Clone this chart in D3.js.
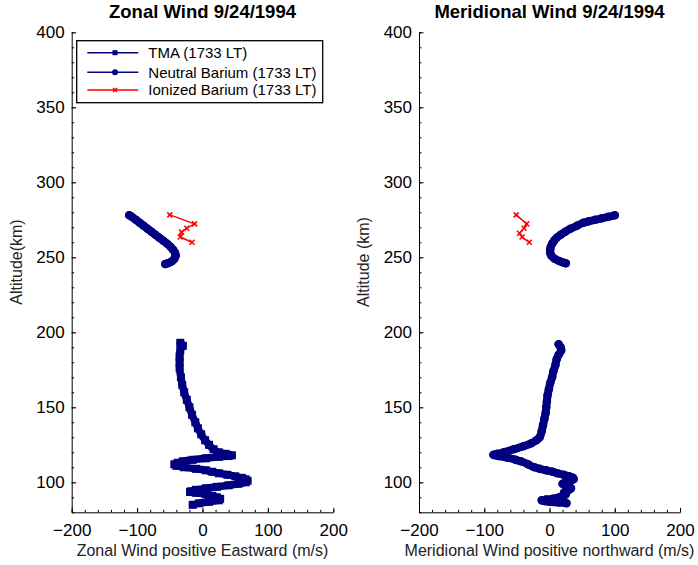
<!doctype html>
<html>
<head>
    <style>
        body { margin: 0; background: #fff; }
        text { font-family: "Liberation Sans", Arial, sans-serif; }
        .title { font-weight: bold; font-size: 18.5px; }
        .tick text { font-size: 17px; }
    </style>
    <script src="https://d3js.org/d3.v7.min.js"></script>
</head>
<body>
    <svg width="698" height="565"></svg>
    <script>
        // Zonal wind (m/s) vs altitude (km)
        var tmaZonalAlt = [193, 191, 188, 184, 180, 176, 170, 165, 160, 155, 150, 145, 140, 136, 132, 128, 125, 122, 120, 119, 118,
            117.5, 117, 116, 115, 114, 113, 112, 111, 110, 109, 108, 107, 106, 105, 104, 103, 102, 101, 100, 99, 98, 97, 96, 95,
            94, 93.5, 93, 92, 91, 90, 89, 88, 87, 86, 85];
        var tmaZonalWind = [-34, -30, -34, -35, -35, -35, -33, -31, -28, -24, -20, -16, -11, -7, -2, 4, 10, 17, 25, 35, 45,
            40, 25, 5, -15, -30, -38, -43, -40, -28, -10, 5, 15, 25, 38, 50, 60, 66, 69, 66, 55, 40, 22, 5, -10,
            -18, -19, -10, 5, 15, 22, 27, 25, 10, -5, -15];

        var baZonalAlt = [278, 277, 275, 273, 271, 269, 267, 265, 263, 261, 259, 257, 255, 253, 251, 249, 247, 246, 245.5];
        var baZonalWind = [-112, -108, -102, -96, -90, -84, -78, -72, -66, -60, -54, -49, -45, -42, -41, -43, -48, -53, -57];

        var ionZonalAlt = [278.3, 272.3, 269.4, 266.8, 263.5, 260];
        var ionZonalWind = [-50, -12, -24, -32, -34, -16];

        // Meridional wind (m/s) vs altitude (km)
        var tmaMeridAlt = [192, 190, 188, 185, 182, 178, 174, 170, 166, 162, 158, 154, 150, 146, 142, 138, 134, 130, 128, 126,
            124, 122, 120, 119, 118.3, 117.5, 116.5, 115, 114, 112, 110, 109, 108, 107, 106, 105, 104, 103, 102, 101, 100,
            99, 98, 97, 96, 95, 94, 93, 92, 91, 90, 89, 88.5, 88, 87, 86.5, 86];
        var tmaMeridWind = [14, 17, 18, 14, 11, 9, 6, 4, 1, -1, -3, -4, -5, -6, -8, -10, -12, -15, -20, -28,
            -40, -55, -70, -80, -86, -78, -65, -52, -44, -33, -23, -15, -5, 5, 12, 22, 30, 36, 37, 32, 25,
            20, 25, 30, 33, 30, 25, 22, 25, 22, 15, 5, -5, -12, 0, 15, 26];

        var baMeridAlt = [278, 277, 276, 275, 274, 273, 271, 269, 267, 265, 263, 261, 259, 257, 255, 253, 251, 249, 247.5, 246.5, 246];
        var baMeridWind = [100, 90, 80, 70, 60, 52, 42, 32, 24, 17, 11, 7, 4, 2, 1, 1, 3, 8, 15, 21, 25];

        var ionMeridAlt = [278.3, 272.3, 269.4, 266, 263.5, 260];
        var ionMeridWind = [-51, -35, -39, -46, -42, -31];

        var legendLabels = ["TMA (1733 LT)", "Neutral Barium (1733 LT)", "Ionized Barium (1733 LT)"];
        var xTicks = [-200, -100, 0, 100, 200];
        var yTicks = [100, 150, 200, 250, 300, 350, 400];

        var navy = "#000080", red = "#ff0000";
        var svg = d3.select("svg");

        function zip(alt, wind) {
            return alt.map(function (a, i) { return { alt: a, v: wind[i] }; });
        }

        function drawMarker(g, type, color, size) {
            if (type === "square") {
                g.append("rect").attr("x", -size / 2).attr("y", -size / 2)
                    .attr("width", size).attr("height", size).attr("fill", color);
            } else if (type === "circle") {
                g.append("circle").attr("r", size / 2).attr("fill", color);
            } else {
                var s = size / 2;
                g.append("path").attr("d", "M" + -s + "," + -s + "L" + s + "," + s + "M" + -s + "," + s + "L" + s + "," + -s)
                    .attr("stroke", color).attr("stroke-width", 1.6);
            }
        }

        function drawPanel(left, right, title, xlabel, ylabel, series, legend) {
            var top = 32.3, bottom = 512.3;
            var x = d3.scaleLinear().domain([-200, 200]).range([left, right]);
            var y = d3.scaleLinear().domain([80, 400]).range([bottom, top]);
            var g = svg.append("g");

            // minor ticks
            g.append("g").attr("transform", "translate(0," + bottom + ")")
                .call(d3.axisBottom(x).tickValues(d3.range(-200, 201, 20)).tickSize(-2.5).tickFormat(""))
                .call(function (a) { a.select(".domain").remove(); });
            g.append("g").attr("transform", "translate(" + left + ",0)")
                .call(d3.axisLeft(y).tickValues(d3.range(80, 401, 10)).tickSize(-2.5).tickFormat(""))
                .call(function (a) { a.select(".domain").remove(); });

            // major ticks + labels
            var xa = g.append("g").attr("transform", "translate(0," + bottom + ")")
                .call(d3.axisBottom(x).tickValues(xTicks).tickSizeInner(-4.5).tickSizeOuter(0)
                    .tickPadding(10).tickFormat(function (d) { return d < 0 ? "\u2212" + (-d) : d; }));
            xa.selectAll("text").attr("fill", "#000").attr("dy", "0.71em").attr("y", 11.5);
            var ya = g.append("g").attr("transform", "translate(" + left + ",0)")
                .call(d3.axisLeft(y).tickValues(yTicks).tickSizeInner(-4.5).tickSizeOuter(0).tickPadding(7));
            ya.selectAll("text").attr("fill", "#000").attr("x", -7);
            g.selectAll(".domain").attr("stroke", "#000");
            g.selectAll(".tick line").attr("stroke", "#000");

            var cx = (left + right) / 2;
            g.append("text").attr("class", "title").attr("x", cx).attr("y", 18)
                .attr("text-anchor", "middle").text(title);
            g.append("text").attr("x", cx).attr("y", 556).attr("text-anchor", "middle")
                .attr("font-size", "16px").attr("fill", "#222").text(xlabel);
            g.append("text").attr("transform", "translate(" + (left - 50) + ",262) rotate(-90)")
                .attr("text-anchor", "middle").attr("font-size", "16px").attr("fill", "#222").text(ylabel);

            series.forEach(function (s) {
                var pts = zip(s.alt, s.wind);
                var line = d3.line().x(function (d) { return x(d.v); }).y(function (d) { return y(d.alt); })
                    .curve(s.marker === "cross" ? d3.curveLinear : d3.curveMonotoneY);
                g.append("path").datum(pts).attr("d", line).attr("fill", "none")
                    .attr("stroke", s.color).attr("stroke-width", s.width)
                    .attr("stroke-linejoin", "round").attr("stroke-linecap", "round");
                g.selectAll(null).data(pts).enter().append("g")
                    .attr("transform", function (d) { return "translate(" + x(d.v) + "," + y(d.alt) + ")"; })
                    .each(function () { drawMarker(d3.select(this), s.marker, s.color, s.size); });
            });

            if (legend) {
                var lg = g.append("g");
                lg.append("rect").attr("x", 76.7).attr("y", 40.7).attr("width", 246).attr("height", 62)
                    .attr("fill", "#fff").attr("stroke", "#000").attr("stroke-width", 1.3);
                var rows = [
                    { y: 52.7, color: navy, marker: "square", size: 5 },
                    { y: 72.3, color: navy, marker: "circle", size: 6 },
                    { y: 90, color: red, marker: "cross", size: 4 }
                ];
                rows.forEach(function (r, i) {
                    lg.append("line").attr("x1", 87.3).attr("x2", 138.3).attr("y1", r.y).attr("y2", r.y)
                        .attr("stroke", r.color).attr("stroke-width", 1.5);
                    drawMarker(lg.append("g").attr("transform", "translate(115," + r.y + ")"), r.marker, r.color, r.size);
                    lg.append("text").attr("x", 148.3).attr("y", r.y + 5.2).attr("font-size", "15px")
                        .text(legendLabels[i]);
                });
            }
        }

        drawPanel(71.7, 333.3, "Zonal Wind 9/24/1994", "Zonal Wind positive Eastward (m/s)", "Altitude(km)", [
            { alt: tmaZonalAlt, wind: tmaZonalWind, color: navy, marker: "square", size: 8, width: 7.5 },
            { alt: baZonalAlt, wind: baZonalWind, color: navy, marker: "circle", size: 8.5, width: 8 },
            { alt: ionZonalAlt, wind: ionZonalWind, color: red, marker: "cross", size: 5, width: 1.5 }
        ], true);

        drawPanel(419, 680, "Meridional Wind 9/24/1994", "Meridional Wind positive northward (m/s)", "Altitude (km)", [
            { alt: tmaMeridAlt, wind: tmaMeridWind, color: navy, marker: "circle", size: 8.5, width: 8 },
            { alt: baMeridAlt, wind: baMeridWind, color: navy, marker: "circle", size: 8.5, width: 8 },
            { alt: ionMeridAlt, wind: ionMeridWind, color: red, marker: "cross", size: 5, width: 1.5 }
        ], false);
    </script>
</body>
</html>
